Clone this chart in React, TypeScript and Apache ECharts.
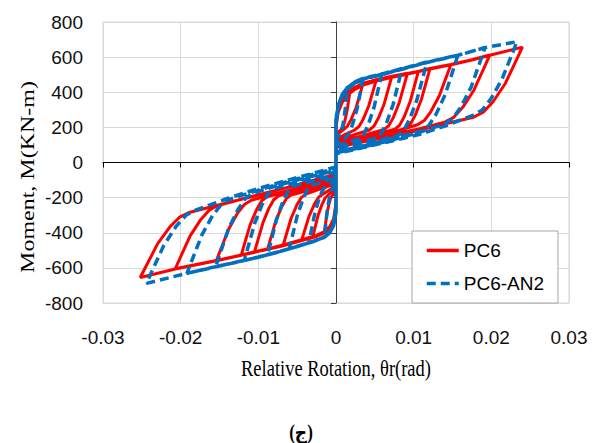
import { useEffect, useRef } from 'react';
import * as echarts from 'echarts';

// Relative rotation (rad) vs moment (kN-m), one array per loading cycle
const pc6Cycle1 = [
  [0, 0], [0, 200], [0.0003, 290], [0.0008, 350], [0.0013, 385], [0.0018, 405],
  [0.00169, 373], [0.00142, 293], [0.00114, 237], [0.00092, 205], [0.0007, 190], [0.0003, 172], [0, 160],
  [0, -230], [-0.0003, -320], [-0.0008, -365], [-0.0015, -395],
  [-0.0014, -364], [-0.00115, -288], [-0.0009, -235], [-0.0007, -204], [-0.0005, -190], [-0.0002, -172], [0, -160],
];
const pc6Cycle2 = [
  [0, 210], [0.0003, 295], [0.0008, 355], [0.0015, 398], [0.0025, 428], [0.0035, 452],
  [0.00324, 412], [0.00259, 313], [0.00194, 244], [0.00142, 204], [0.0009, 185], [0.0004, 168], [0, 150],
  [0, -235], [-0.0003, -325], [-0.0008, -367], [-0.0015, -393], [-0.0025, -415], [-0.003, -425],
  [-0.0028, -389], [-0.0023, -300], [-0.0018, -238], [-0.0014, -202], [-0.001, -185], [-0.0004, -162], [0, -145],
];
const pc6Cycle3 = [
  [0, 215], [0.0003, 295], [0.0008, 355], [0.0015, 398], [0.0025, 428], [0.0035, 450], [0.0052, 472],
  [0.00492, 429], [0.00422, 323], [0.00352, 248], [0.00296, 205], [0.0024, 185], [0.0012, 160], [0.0004, 140], [0, 130],
  [0, -240], [-0.0003, -328], [-0.0008, -368], [-0.0015, -394], [-0.0025, -415], [-0.0044, -440],
  [-0.00413, -401], [-0.00346, -305], [-0.00278, -237], [-0.00224, -198], [-0.0017, -180], [-0.0008, -155], [0, -130],
];
const pc6Cycle4 = [
  [0, 220], [0.0003, 300], [0.0008, 358], [0.0015, 400], [0.0025, 430], [0.0035, 452], [0.0052, 472], [0.0072, 492],
  [0.00691, 446], [0.00619, 332], [0.00546, 253], [0.00488, 207], [0.0043, 185], [0.0025, 160], [0.001, 138], [0, 120],
  [0, -245], [-0.0003, -330], [-0.0008, -370], [-0.0015, -395], [-0.0025, -415], [-0.0044, -440], [-0.0068, -470],
  [-0.00651, -427], [-0.00579, -319], [-0.00506, -244], [-0.00448, -200], [-0.0039, -180], [-0.002, -150], [0, -120],
];
const pc6Cycle5 = [
  [0, 220], [0.0003, 298], [0.0008, 355], [0.0015, 398], [0.0025, 428], [0.0035, 450], [0.0052, 471], [0.0072, 491], [0.0092, 508],
  [0.0089, 460], [0.00815, 342], [0.0074, 258], [0.0068, 210], [0.0062, 188], [0.004, 160], [0.002, 135], [0, 110],
  [0, -250], [-0.0003, -332], [-0.0008, -371], [-0.0015, -396], [-0.0025, -416], [-0.0044, -441], [-0.0068, -470], [-0.0088, -492],
  [-0.0085, -446], [-0.00775, -332], [-0.007, -253], [-0.0064, -206], [-0.0058, -185], [-0.0035, -158], [-0.0015, -132], [0, -110],
];
const pc6Cycle6 = [
  [0, 225], [0.0003, 296], [0.0008, 352], [0.0015, 395], [0.0025, 426], [0.0035, 448], [0.0052, 470], [0.0072, 490], [0.0092, 507], [0.0106, 518],
  [0.0103, 469], [0.00955, 347], [0.0088, 262], [0.0082, 213], [0.0076, 190], [0.005, 160], [0.0025, 132], [0, 105],
  [0, -255], [-0.0003, -333], [-0.0008, -372], [-0.0015, -397], [-0.0025, -417], [-0.0044, -441], [-0.0068, -470], [-0.0088, -492], [-0.0105, -510],
  [-0.01019, -462], [-0.00941, -344], [-0.00864, -260], [-0.00802, -212], [-0.0074, -190], [-0.0045, -158], [-0.002, -128], [0, -100],
];
const pc6Cycle7 = [
  [0, 225], [0.0003, 294], [0.0008, 350], [0.0015, 393], [0.0025, 424], [0.0035, 447], [0.0052, 469], [0.0072, 490], [0.0092, 507], [0.0106, 518], [0.0121, 535],
  [0.01178, 484], [0.01098, 357], [0.01018, 267], [0.00954, 216], [0.0089, 192], [0.006, 160], [0.003, 130], [0, 100],
  [0, -260], [-0.0003, -334], [-0.0008, -373], [-0.0015, -398], [-0.0025, -418], [-0.0044, -442], [-0.0068, -471], [-0.0088, -493], [-0.0105, -510], [-0.0122, -527],
  [-0.01187, -477], [-0.01105, -354], [-0.01022, -268], [-0.00956, -218], [-0.0089, -195], [-0.006, -163], [-0.003, -130], [0, -95],
];
const pc6Cycle8 = [
  [0, 230], [0.0003, 292], [0.0008, 348], [0.0015, 390], [0.0025, 422], [0.0035, 445], [0.0052, 468], [0.0072, 489], [0.0092, 506], [0.0106, 518], [0.0121, 535], [0.0148, 558],
  [0.01437, 507], [0.0133, 380], [0.01222, 290], [0.01136, 239], [0.0105, 215], [0.0075, 175], [0.004, 138], [0, 95],
  [0, -265], [-0.0003, -335], [-0.0008, -374], [-0.0015, -399], [-0.0025, -419], [-0.0044, -443], [-0.0068, -472], [-0.0096, -500], [-0.0122, -527], [-0.0154, -558],
  [-0.01495, -507], [-0.01383, -380], [-0.0127, -290], [-0.0118, -239], [-0.0109, -215], [-0.0075, -175], [-0.004, -135], [0, -85],
];
const pc6Cycle9 = [
  [0, 235], [0.0003, 290], [0.0008, 345], [0.0015, 388], [0.0025, 420], [0.0035, 443], [0.0052, 466], [0.0072, 487], [0.0092, 505], [0.0121, 534], [0.0148, 558], [0.0175, 585], [0.0198, 612],
  [0.01922, 555], [0.01777, 413], [0.01632, 314], [0.01516, 257], [0.014, 230], [0.0105, 190], [0.007, 158], [0.0035, 125], [0, 90],
  [0, -270], [-0.0003, -336], [-0.0008, -375], [-0.0015, -400], [-0.0025, -420], [-0.0044, -444], [-0.0068, -473], [-0.0096, -501], [-0.0122, -528], [-0.0154, -558], [-0.018, -580], [-0.0207, -605],
  [-0.02015, -551], [-0.01878, -418], [-0.0174, -324], [-0.0163, -270], [-0.0152, -245], [-0.011, -195], [-0.007, -150], [-0.0035, -112], [0, -75],
];
const pc6Cycle10 = [
  [0, 240], [0.0003, 288], [0.0008, 342], [0.0015, 385], [0.0025, 418], [0.0035, 441], [0.0052, 464], [0.0072, 485], [0.0092, 503], [0.0121, 532], [0.0148, 556], [0.0175, 584], [0.0198, 611], [0.024, 657],
  [0.02337, 597], [0.0218, 450], [0.02022, 346], [0.01896, 286], [0.0177, 258], [0.0145, 225], [0.0108, 185], [0.007, 150], [0.0035, 118], [0, 85],
  [0, -275], [-0.0003, -337], [-0.0008, -376], [-0.0015, -401], [-0.0025, -421], [-0.0044, -445], [-0.0068, -474], [-0.0096, -502], [-0.0122, -529], [-0.0154, -559], [-0.0207, -606], [-0.0252, -655],
  [-0.02456, -599], [-0.02296, -462], [-0.02136, -365], [-0.02008, -309], [-0.0188, -283], [-0.0145, -235], [-0.0094, -180], [-0.0045, -120], [0, -65],
];

const an2Cycle1 = [
  [0, 0], [0, 220], [0.0003, 320], [0.0008, 385], [0.0015, 430],
  [0.0014, 390], [0.00115, 290], [0.0009, 219], [0.0007, 179], [0.0005, 160], [0.0002, 142], [0, 130],
  [0, -250], [-0.0003, -350], [-0.0008, -398], [-0.0015, -425],
  [-0.0014, -384], [-0.00115, -282], [-0.0009, -211], [-0.0007, -169], [-0.0005, -150], [-0.0002, -132], [0, -120],
];
const an2Cycle2 = [
  [0, 225], [0.0003, 325], [0.0008, 388], [0.0015, 428], [0.0025, 460], [0.0035, 480],
  [0.00327, 429], [0.0027, 303], [0.00212, 215], [0.00166, 164], [0.0012, 140], [0.0005, 122], [0, 110],
  [0, -255], [-0.0003, -352], [-0.0008, -398], [-0.0015, -424], [-0.0025, -442], [-0.0035, -458],
  [-0.00328, -410], [-0.00273, -290], [-0.00218, -206], [-0.00174, -158], [-0.0013, -135], [-0.0005, -115], [0, -100],
];
const an2Cycle3 = [
  [0, 230], [0.0003, 328], [0.0008, 388], [0.0015, 428], [0.0025, 460], [0.0035, 479], [0.0059, 505],
  [0.00561, 450], [0.00489, 313], [0.00416, 216], [0.00358, 161], [0.003, 135], [0.0015, 115], [0, 95],
  [0, -260], [-0.0003, -354], [-0.0008, -398], [-0.0015, -424], [-0.003, -450], [-0.0045, -472], [-0.006, -490],
  [-0.00571, -436], [-0.00499, -303], [-0.00426, -209], [-0.00368, -155], [-0.0031, -130], [-0.0015, -108], [0, -85],
];
const an2Cycle4 = [
  [0, 235], [0.0003, 328], [0.0008, 387], [0.0015, 427], [0.0025, 459], [0.0035, 478], [0.0059, 504], [0.0085, 535],
  [0.00817, 476], [0.00735, 330], [0.00652, 227], [0.00586, 168], [0.0052, 140], [0.003, 115], [0.0012, 95], [0, 80],
  [0, -265], [-0.0003, -355], [-0.0008, -399], [-0.0015, -424], [-0.003, -450], [-0.005, -477], [-0.0068, -502], [-0.0088, -525],
  [-0.00847, -467], [-0.00764, -322], [-0.00682, -221], [-0.00616, -162], [-0.0055, -135], [-0.003, -105], [-0.0012, -85], [0, -70],
];
const an2Cycle5 = [
  [0, 240], [0.0003, 326], [0.0008, 385], [0.0015, 425], [0.0025, 457], [0.0035, 477], [0.0059, 503], [0.0085, 534], [0.0117, 572],
  [0.01133, 509], [0.01041, 355], [0.00948, 247], [0.00874, 184], [0.008, 155], [0.005, 120], [0.0022, 90], [0, 70],
  [0, -270], [-0.0003, -356], [-0.0008, -399], [-0.0015, -425], [-0.003, -450], [-0.005, -478], [-0.0075, -509], [-0.01, -538], [-0.0118, -558],
  [-0.01142, -497], [-0.01047, -346], [-0.00952, -240], [-0.00876, -179], [-0.008, -150], [-0.005, -110], [-0.0022, -78], [0, -55],
];
const an2Cycle6 = [
  [0, 245], [0.0003, 324], [0.0008, 383], [0.0015, 423], [0.0025, 455], [0.0035, 476], [0.0059, 502], [0.0085, 533], [0.0117, 571], [0.0157, 612],
  [0.01523, 547], [0.01406, 387], [0.01288, 275], [0.01194, 210], [0.011, 180], [0.0075, 140], [0.004, 100], [0, 60],
  [0, -275], [-0.0003, -357], [-0.0008, -400], [-0.0015, -425], [-0.003, -451], [-0.005, -478], [-0.0075, -510], [-0.01, -539], [-0.0125, -564], [-0.0155, -594],
  [-0.01502, -531], [-0.01382, -376], [-0.01262, -267], [-0.01166, -204], [-0.0107, -175], [-0.0075, -130], [-0.004, -88], [0, -45],
];
const an2Cycle7 = [
  [0, 250], [0.0003, 322], [0.0008, 381], [0.0015, 421], [0.0025, 453], [0.0035, 475], [0.0059, 501], [0.0085, 532], [0.0117, 570], [0.0157, 611], [0.0192, 655],
  [0.01868, 590], [0.0174, 429], [0.01608, 316], [0.01504, 250], [0.014, 220], [0.0105, 168], [0.007, 125], [0.0035, 88], [0, 55],
  [0, -280], [-0.0003, -358], [-0.0008, -400], [-0.0015, -425], [-0.003, -451], [-0.005, -478], [-0.0075, -510], [-0.01, -539], [-0.0125, -564], [-0.016, -598], [-0.0192, -632],
  [-0.01865, -569], [-0.01728, -413], [-0.0159, -303], [-0.0148, -240], [-0.0137, -210], [-0.0102, -160], [-0.0068, -115], [-0.0034, -72], [0, -35],
];
const an2Cycle8 = [
  [0, 255], [0.0003, 320], [0.0008, 379], [0.0015, 419], [0.0025, 451], [0.0035, 474], [0.0059, 500], [0.0085, 531], [0.0117, 569], [0.0157, 610], [0.0192, 654], [0.0233, 688],
  [0.02274, 625], [0.02134, 471], [0.01994, 362], [0.01882, 299], [0.0177, 270], [0.0145, 215], [0.0108, 160], [0.006, 110], [0.002, 70], [0, 50],
  [0, -285], [-0.0003, -359], [-0.0008, -401], [-0.0015, -426], [-0.003, -452], [-0.005, -479], [-0.0075, -511], [-0.01, -540], [-0.0125, -565], [-0.016, -599], [-0.0192, -631], [-0.0244, -688],
  [-0.02376, -625], [-0.02216, -471], [-0.02056, -362], [-0.01928, -299], [-0.018, -270], [-0.014, -205], [-0.0094, -140], [-0.0045, -80], [0, -25],
];

const SERIES_NAMES = ['PC6', 'PC6-AN2'];
const X_TITLE = 'Relative Rotation, θr(rad)';
const Y_TITLE = 'Moment, M(KN-m)';
const CAPTION = '(ج)';

const PC6_DATA = [
  ...pc6Cycle1, ...pc6Cycle2, ...pc6Cycle3, ...pc6Cycle4, ...pc6Cycle5,
  ...pc6Cycle6, ...pc6Cycle7, ...pc6Cycle8, ...pc6Cycle9, ...pc6Cycle10,
];
const AN2_DATA = [
  ...an2Cycle1, ...an2Cycle2, ...an2Cycle3, ...an2Cycle4,
  ...an2Cycle5, ...an2Cycle6, ...an2Cycle7, ...an2Cycle8,
];

const NARROW = '"Liberation Sans Narrow", "Arial Narrow", sans-serif';
const SERIF = '"Liberation Serif", "Times New Roman", serif';

export default function App() {
  const ref = useRef<HTMLDivElement>(null);
  useEffect(() => {
    if (!ref.current) return;
    const chart = echarts.init(ref.current, undefined, { renderer: 'svg' });
    chart.setOption({
      animation: false,
      backgroundColor: '#ffffff',
      grid: { left: 103, top: 22, width: 466, height: 281, show: true, borderColor: '#d9d9d9', borderWidth: 1 },
      legend: {
        data: SERIES_NAMES,
        orient: 'vertical',
        left: 412,
        top: 231,
        padding: [10, 14, 10, 13],
        itemGap: 14,
        itemWidth: 32,
        itemHeight: 16,
        borderColor: '#a6a6a6',
        borderWidth: 1,
        backgroundColor: '#ffffff',
        itemStyle: { opacity: 0 },
        lineStyle: { width: 3.5 },
        textStyle: { fontFamily: NARROW, fontSize: 19, color: '#000' },
      },
      xAxis: [
        {
          type: 'value', min: -0.03, max: 0.03, interval: 0.01, position: 'bottom',
          axisLine: { show: false, onZero: false },
          axisTick: { show: false },
          axisLabel: {
            margin: 25, fontFamily: NARROW, fontSize: 19, color: '#111',
            showMinLabel: true, showMaxLabel: true,
            formatter: (v: number) => String(Math.round(v * 100) / 100),
          },
          splitLine: { show: true, lineStyle: { color: '#d9d9d9', width: 1 } },
        },
        {
          type: 'value', min: -0.03, max: 0.03, interval: 0.01, position: 'bottom',
          axisLine: { show: true, onZero: true, lineStyle: { color: '#000', width: 1 } },
          axisTick: { show: true, length: 5, lineStyle: { color: '#000' } },
          axisLabel: { show: false },
          splitLine: { show: false },
        },
      ],
      yAxis: [
        {
          type: 'value', min: -800, max: 800, interval: 200, position: 'left',
          axisLine: { show: false, onZero: false },
          axisTick: { show: false },
          axisLabel: { margin: 20, fontFamily: NARROW, fontSize: 19, color: '#111', showMinLabel: true, showMaxLabel: true },
          splitLine: { show: true, lineStyle: { color: '#d9d9d9', width: 1 } },
        },
        {
          type: 'value', min: -800, max: 800, interval: 200, position: 'left',
          axisLine: { show: true, onZero: true, lineStyle: { color: '#404040', width: 1 } },
          axisTick: { show: true, length: 5, lineStyle: { color: '#404040' } },
          axisLabel: { show: false },
          splitLine: { show: false },
        },
      ],
      series: [
        {
          name: SERIES_NAMES[0], type: 'line', data: PC6_DATA, xAxisIndex: 0, yAxisIndex: 0,
          symbol: 'none', showSymbol: false, smooth: false,
          lineStyle: { color: '#ff0000', width: 3 }, itemStyle: { color: '#ff0000' }, z: 2,
        },
        {
          name: SERIES_NAMES[1], type: 'line', data: AN2_DATA, xAxisIndex: 0, yAxisIndex: 0,
          symbol: 'none', showSymbol: false, smooth: false,
          lineStyle: { color: '#0070c0', width: 3.5, type: [9, 5] }, itemStyle: { color: '#0070c0' }, z: 3,
        },
      ],
      graphic: [
        {
          type: 'text', x: 336, y: 368, scaleX: 0.77,
          style: { text: X_TITLE, font: `24px ${SERIF}`, fill: '#000', textAlign: 'center', verticalAlign: 'middle' },
        },
        {
          type: 'text', x: 28, y: 177, rotation: Math.PI / 2, scaleY: 0.77,
          style: { text: Y_TITLE, font: `24px ${SERIF}`, fill: '#000', textAlign: 'center', verticalAlign: 'middle' },
        },
        {
          type: 'text', x: 301, y: 432, scaleX: 0.85,
          style: { text: CAPTION, font: `bold 20px ${SERIF}, "DejaVu Sans"`, fill: '#000', textAlign: 'center', verticalAlign: 'middle' },
        },
      ],
    });
    return () => chart.dispose();
  }, []);
  return (
    <div style={{ position: 'fixed', left: 0, top: 0, width: 593, height: 443, background: '#fff' }}>
      <div ref={ref} style={{ width: 593, height: 443 }} />
    </div>
  );
}
